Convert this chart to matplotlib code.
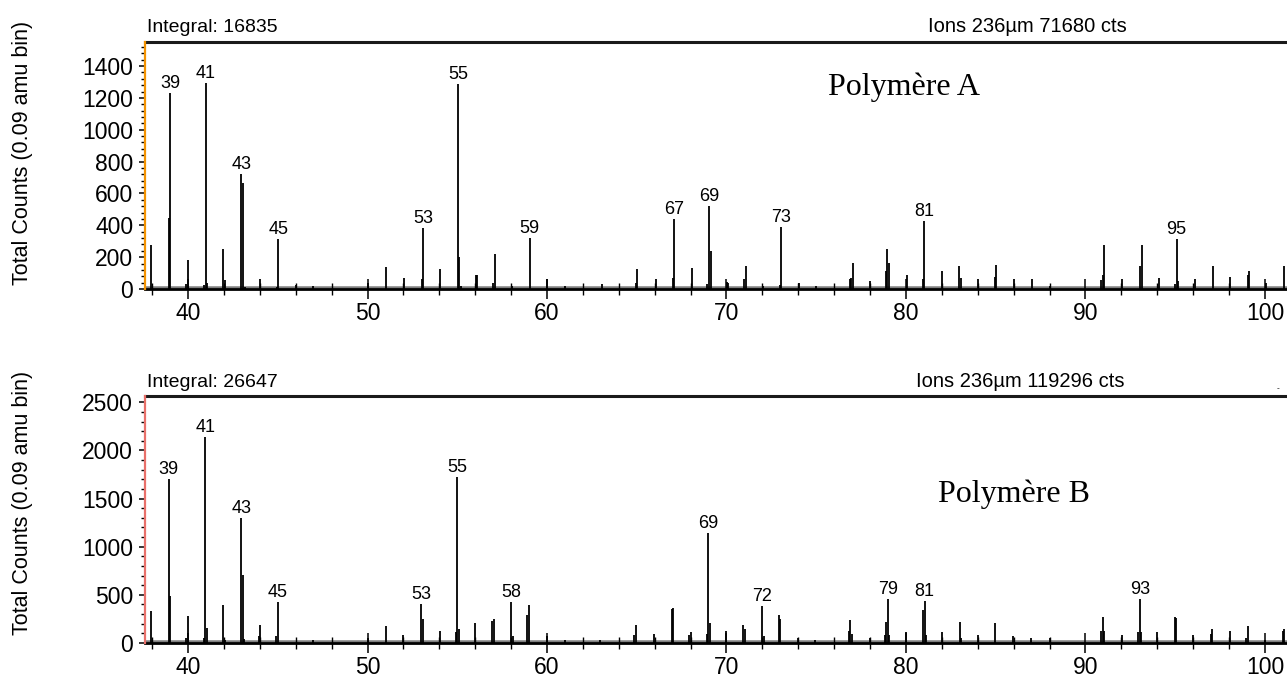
import matplotlib
matplotlib.use("Agg")
import matplotlib.pyplot as plt
from matplotlib.ticker import MultipleLocator
from matplotlib.transforms import ScaledTranslation

plt.rcParams['font.family'] = ['Liberation Sans', 'DejaVu Sans']

# ---------------- data: Polymère A ----------------
mass_A = [37.95, 38.92, 39.01, 39.91, 40.00, 40.89, 40.99, 41.08, 41.96, 42.03,
          42.96, 43.05, 43.15, 44.02, 44.93, 45.03, 46.00, 46.98, 50.00, 51.02,
          52.01, 53.02, 53.09, 54.06, 55.04, 55.11, 55.19, 56.02, 56.11, 57.00,
          57.09, 58.06, 59.04, 60.02, 61.02, 63.06, 64.94, 65.02, 66.07, 67.00,
          67.07, 68.06, 68.94, 69.04, 69.13, 70.04, 70.11, 70.98, 71.07, 72.04,
          72.96, 73.06, 74.02, 75.00, 76.89, 76.96, 77.06, 78.02, 78.86, 78.96,
          79.05, 80.04, 80.93, 81.02, 81.99, 82.98, 83.05, 83.99, 84.95, 85.03,
          86.03, 87.02, 88.01, 90.88, 90.97, 91.06, 92.05, 93.04, 93.13, 94.10,
          94.99, 95.08, 95.18, 96.09, 97.08, 98.06, 99.03, 99.12, 100.08, 101.08]
counts_A = [276, 444, 1229, 30, 182, 25, 1296, 35, 249, 56,
            722, 668, 15, 61, 15, 314, 25, 20, 40, 136,
            71, 61, 381, 128, 1285, 199, 20, 86, 86, 40,
            218, 19, 322, 61, 19, 31, 40, 123, 61, 67,
            437, 134, 30, 519, 239, 46, 40, 61, 144, 21,
            25, 387, 40, 21, 61, 67, 161, 50, 113, 249,
            161, 86, 61, 427, 115, 144, 67, 61, 77, 153,
            61, 61, 21, 56, 86, 276, 61, 144, 276, 67,
            30, 314, 50, 61, 144, 77, 86, 113, 40, 144]
labels_A = [39, 41, 43, 45, 53, 55, 59, 67, 69, 73, 81, 95]

# ---------------- data: Polymère B ----------------
mass_B = [37.95, 38.92, 39.01, 39.91, 40.00, 40.89, 40.97, 41.06, 41.96, 42.03,
          42.96, 43.04, 43.13, 43.93, 44.02, 44.92, 44.99, 46.98, 50.00, 51.02,
          52.00, 52.98, 53.07, 54.02, 54.93, 55.00, 55.09, 55.98, 56.94, 57.04,
          58.02, 58.11, 58.91, 59.00, 60.00, 60.98, 62.96, 64.87, 64.96, 65.94,
          66.94, 67.02, 67.93, 68.00, 68.89, 68.98, 69.06, 69.96, 70.93, 71.02,
          72.00, 72.09, 72.91, 72.98, 73.96, 74.94, 76.81, 76.89, 76.98, 77.98,
          78.85, 78.90, 79.00, 79.07, 80.00, 80.95, 81.04, 81.12, 82.01, 82.99,
          83.07, 84.00, 84.98, 85.99, 86.99, 88.03, 90.89, 90.99, 91.06, 92.04,
          92.94, 93.03, 93.12, 94.01, 94.98, 95.07, 96.00, 96.97, 97.06, 98.03,
          98.96, 99.03, 100.02, 100.99, 101.08]
counts_B = [329, 1705, 484, 52, 284, 52, 2137, 156, 394, 35,
            1297, 709, 40, 69, 190, 69, 422, 35, 52, 180,
            86, 408, 252, 128, 111, 1719, 145, 207, 225, 252,
            422, 69, 287, 394, 69, 35, 35, 86, 190, 97,
            353, 363, 86, 118, 97, 1141, 207, 128, 190, 145,
            380, 76, 287, 252, 52, 35, 128, 242, 97, 52,
            86, 218, 456, 86, 111, 346, 439, 86, 111, 218,
            52, 86, 207, 69, 52, 52, 128, 270, 128, 86,
            111, 456, 111, 118, 270, 259, 86, 97, 145, 128,
            52, 180, 35, 128, 145]
labels_B = [39, 41, 43, 45, 53, 55, 58, 69, 72, 79, 81, 93]

integral_texts = ["Integral: 16835", "Integral: 26647"]
ions_texts = ["Ions 236\u00b5m 71680 cts", "Ions 236\u00b5m 119296 cts"]
titles = ["Polym\u00e8re A", "Polym\u00e8re B"]
ylabel = "Total Counts (0.09 amu bin)"

# ---------------- layout ----------------
W, H = 1287, 677
fig = plt.figure(figsize=(W / 100, H / 100), dpi=100)


def rect(l, t, r, b):
    return [l / W, 1 - b / H, (r - l) / W, (b - t) / H]


panels = [
    dict(rect=rect(145, 42, 1287, 289), mass=mass_A, counts=counts_A, labels=labels_A,
         ylim=(0, 1551), major=200, minor=40, spine='#F39200',
         integ_y=31.7, ions_x=1027, title_xy=(904, 95), ylab_y=153),
    dict(rect=rect(145, 396, 1287, 643), mass=mass_B, counts=counts_B, labels=labels_B,
         ylim=(0, 2565), major=500, minor=100, spine='#E8706A',
         integ_y=386.7, ions_x=1020, title_xy=(1014, 501.7), ylab_y=503),
]

for i, p in enumerate(panels):
    ax = fig.add_axes(p['rect'])
    ax.set_xlim(37.6, 101.23)
    ax.set_ylim(*p['ylim'])

    ax.vlines(p['mass'], 0, p['counts'], color='black', lw=1.3, zorder=3)

    # hatched baseline look (noise floor of binned spectrum)
    bl = ax.axhline(0, color='black', lw=1.8, ls=(0, (0.4, 0.4)), zorder=2)
    bl.set_transform(bl.get_transform() + ScaledTranslation(0, 1.1 / 72, fig.dpi_scale_trans))

    # peak labels
    for m in p['labels']:
        cands = [(c, x) for x, c in zip(p['mass'], p['counts']) if abs(x - m) < 0.3]
        c, x = max(cands)
        ax.annotate(str(m), xy=(x, c), xytext=(0, 5), textcoords='offset pixels',
                    ha='center', va='baseline', fontsize=13)

    # spines
    ax.spines['right'].set_visible(False)
    ax.spines['top'].set_linewidth(2.2)
    ax.spines['top'].set_color('#1a1a1a')
    ax.spines['bottom'].set_linewidth(2.0)
    ax.spines['left'].set_color(p['spine'])
    ax.spines['left'].set_linewidth(1.6)
    ax.spines['left'].set_zorder(4)

    ax.xaxis.set_major_locator(MultipleLocator(10))
    ax.xaxis.set_minor_locator(MultipleLocator(2))
    ax.yaxis.set_major_locator(MultipleLocator(p['major']))
    ax.yaxis.set_minor_locator(MultipleLocator(p['minor']))

    ax.tick_params(axis='y', which='major', direction='out', length=4.5, width=1.1,
                   labelsize=16.5, pad=4, color='black')
    ax.tick_params(axis='y', which='minor', direction='out', length=3, width=1.0, color='black')
    ax.tick_params(axis='x', which='major', direction='inout', length=14, width=1.1,
                   labelsize=16.5, pad=2.5)
    ax.tick_params(axis='x', which='minor', direction='inout', length=8, width=1.0)

    # header texts
    fig.text(147 / W, 1 - p['integ_y'] / H, integral_texts[i], fontsize=14,
             ha='left', va='baseline')
    fig.text(p['ions_x'] / W, 1 - p['integ_y'] / H, ions_texts[i], fontsize=14.5,
             ha='center', va='baseline')
    tx, ty = p['title_xy']
    fig.text(tx / W, 1 - ty / H, titles[i], fontsize=23, family='Liberation Serif',
             ha='center', va='baseline')
    fig.text(23 / W, 1 - p['ylab_y'] / H, ylabel, rotation=90, fontsize=15.5,
             ha='center', va='center')

fig.text(1278 / W, 1 - 389 / H, '-', fontsize=6, ha='center', va='center')

fig.savefig('out.png', dpi=100)
